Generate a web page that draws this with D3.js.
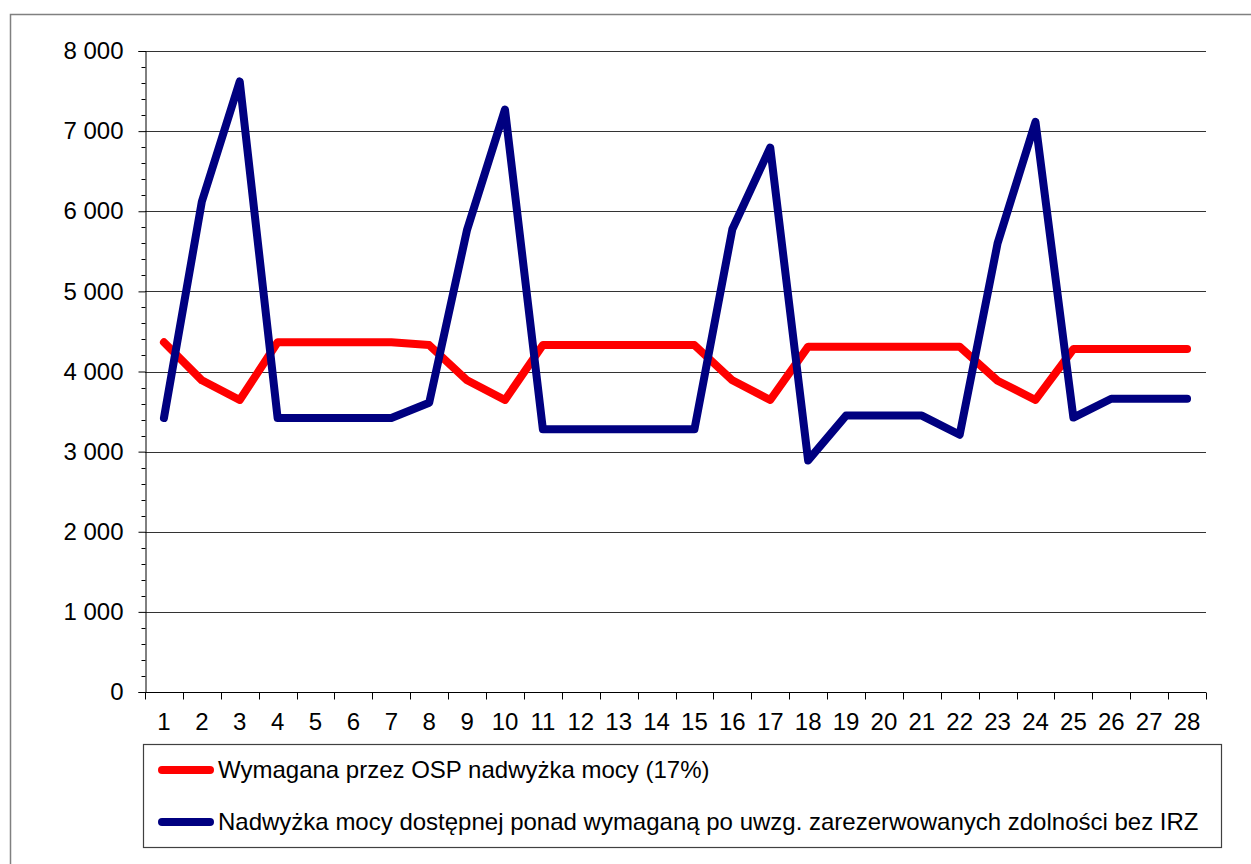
<!DOCTYPE html>
<head>
<meta charset="utf-8">
<title>Nadwyżka mocy</title>
<script src="https://d3js.org/d3.v7.min.js"></script>
<style>
  body { margin: 0; background: #fff; }
  text { font-family: "Liberation Sans", Arial, sans-serif; fill: #000; }
</style>
</head>
<body>
<div id="chart"></div>
<script>

// data
var days = d3.range(1, 29);
var required = [4365, 3890, 3645, 4365, 4365, 4365, 4365, 4330, 3890, 3645,
                4330, 4330, 4330, 4330, 4330, 3890, 3645, 4310, 4310, 4310,
                4310, 4310, 3885, 3645, 4280, 4280, 4280, 4280];
var surplus = [3420, 6120, 7620, 3420, 3420, 3420, 3420, 3610, 5770, 7270,
               3280, 3280, 3280, 3280, 3280, 5775, 6795, 2890, 3450, 3450,
               3450, 3210, 5600, 7115, 3425, 3660, 3660, 3660];
var yTicks = [0, 1000, 2000, 3000, 4000, 5000, 6000, 7000, 8000];
var seriesNames = ["Wymagana przez OSP nadwyżka mocy (17%)",
                   "Nadwyżka mocy dostępnej ponad wymaganą po uwzg. zarezerwowanych zdolności bez IRZ"];
var seriesColors = ["#ff0000", "#000080"];

var W = 1251, H = 864;
var margin = {top: 51, right: 45, bottom: 172, left: 145},
    width = W - margin.left - margin.right,
    height = H - margin.top - margin.bottom;

var svgRoot = d3.select("#chart")
  .append("svg")
    .attr("width", W)
    .attr("height", H);

// outer frame
svgRoot.append("path")
  .attr("d", "M10.5," + H + "V14.5H" + W)
  .attr("fill", "none")
  .attr("stroke", "#808080")
  .attr("stroke-width", 1.5);

var svg = svgRoot.append("g")
    .attr("transform", "translate(" + margin.left + "," + margin.top + ")");

var x = d3.scaleBand()
  .domain(days)
  .range([0, width])
  .padding(0);

var y = d3.scaleLinear()
  .domain([0, 8000])
  .range([height, 0]);

var fmt = d3.formatLocale({decimal: ",", thousands: " ", grouping: [3], currency: ["", ""]}).format(",d");

// gridlines
svg.append("g")
  .selectAll("line")
  .data(yTicks)
  .enter()
  .append("line")
    .attr("x1", 0)
    .attr("x2", width)
    .attr("y1", function(d) { return Math.round(y(d)) + 0.5; })
    .attr("y2", function(d) { return Math.round(y(d)) + 0.5; })
    .attr("stroke", "#333")
    .attr("stroke-width", 1);

// y axis
var yAxis = svg.append("g")
  .attr("transform", "translate(0.5,0)")
  .call(d3.axisLeft(y).tickValues(yTicks).tickFormat(fmt).tickSize(7).tickPadding(15));
yAxis.selectAll("text").style("font-size", "24px");
yAxis.append("g")
  .selectAll("line")
  .data(d3.range(0, 8001, 200).filter(function(d) { return d % 1000 !== 0; }))
  .enter()
  .append("line")
    .attr("x1", -4)
    .attr("x2", 0)
    .attr("y1", function(d) { return Math.round(y(d)) + 0.5; })
    .attr("y2", function(d) { return Math.round(y(d)) + 0.5; })
    .attr("stroke", "#000");

// x axis, ticks on band edges
var xAxis = svg.append("g")
  .attr("transform", "translate(0," + (height + 0.5) + ")")
  .call(d3.axisBottom(x).tickSize(0).tickPadding(20));
xAxis.select(".domain").remove();
xAxis.selectAll("text").style("font-size", "24px");
xAxis.append("line")
  .attr("x1", 0).attr("x2", width)
  .attr("stroke", "#000");
xAxis.append("g")
  .selectAll("line")
  .data(d3.range(0, days.length + 1))
  .enter()
  .append("line")
    .attr("x1", function(i) { return Math.round(i * x.step()) + 0.5; })
    .attr("x2", function(i) { return Math.round(i * x.step()) + 0.5; })
    .attr("y1", 0)
    .attr("y2", 7)
    .attr("stroke", "#000");
yAxis.select(".domain").attr("stroke", "#000");

// lines
var line = d3.line()
  .x(function(d, i) { return x(days[i]) + x.bandwidth() / 2; })
  .y(function(d) { return y(d); });

[required, surplus].forEach(function(s, k) {
  svg.append("path")
    .datum(s)
    .attr("d", line)
    .attr("fill", "none")
    .attr("stroke", seriesColors[k])
    .attr("stroke-width", 8)
    .attr("stroke-linejoin", "round")
    .attr("stroke-linecap", "round");
});

// legend
var legend = svgRoot.append("g");
legend.append("rect")
  .attr("x", 143.5)
  .attr("y", 744.5)
  .attr("width", 1078)
  .attr("height", 103)
  .attr("fill", "#fff")
  .attr("stroke", "#404040")
  .attr("stroke-width", 1.2);

var rows = legend.selectAll("g.row")
  .data(seriesNames)
  .enter()
  .append("g")
    .attr("transform", function(d, i) { return "translate(0," + (770 + i * 52) + ")"; });
rows.append("line")
  .attr("x1", 162).attr("x2", 210)
  .attr("stroke", function(d, i) { return seriesColors[i]; })
  .attr("stroke-width", 8)
  .attr("stroke-linecap", "round");
rows.append("text")
  .attr("x", 218)
  .attr("dy", "0.35em")
  .style("font-size", "24px")
  .text(function(d) { return d; });

</script>
</body>
